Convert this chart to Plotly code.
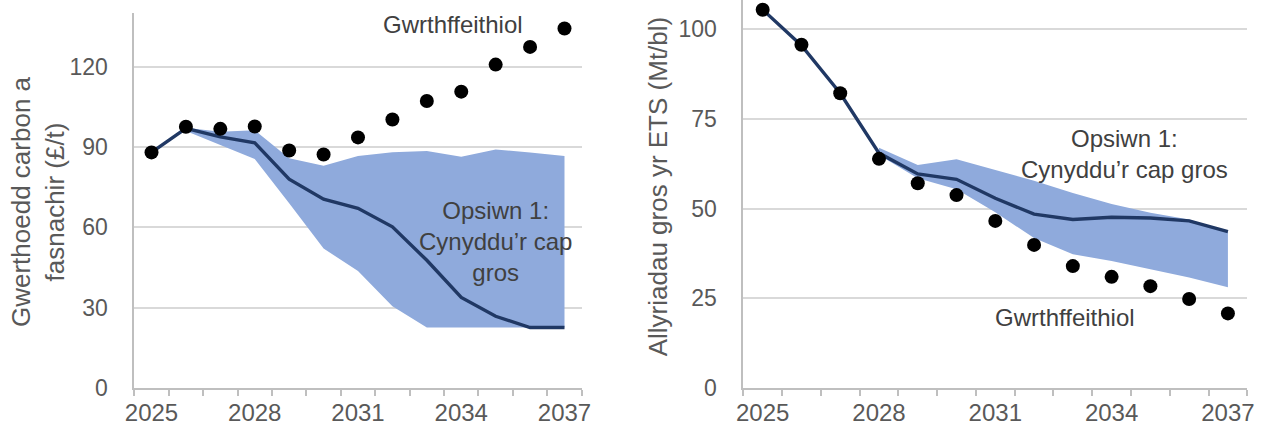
import plotly.graph_objects as go

# Years on both panels
years = list(range(2025, 2038))

# Left panel: carbon price (£/t)
price_counterfactual = [88, 97.6, 96.8, 97.7, 88.7, 87.2, 93.6, 100.3, 107.2, 110.7, 120.8, 127.4, 134.3]
price_option1 = [88, 97, 93.8, 91.6, 78, 70.5, 67.1, 60.2, 47.7, 33.8, 26.8, 22.6, 22.6]
price_band_years = list(range(2026, 2038))
price_band_upper = [97.2, 95.7, 96.3, 85.8, 83, 86.7, 88.1, 88.5, 86.4, 89.1, 88, 86.7]
price_band_lower = [96, 90.7, 85.5, 69, 52.1, 43.7, 30.5, 22.6, 22.6, 22.6, 22.6, 22.6]

# Right panel: gross ETS emissions (Mt/yr)
emis_counterfactual = [105.5, 95.7, 82.2, 63.9, 57.1, 53.8, 46.6, 39.9, 34.0, 31.0, 28.4, 24.8, 20.8]
emis_option1 = [105.5, 95.5, 82.2, 65.5, 59.7, 58.2, 52.9, 48.5, 47.0, 47.6, 47.4, 46.6, 43.6]
emis_band_years = list(range(2028, 2038))
emis_band_upper = [67.0, 62.2, 63.8, 60.8, 57.8, 54.4, 51.3, 48.9, 47.0, 43.6]
emis_band_lower = [65.0, 58.5, 55.4, 49.0, 41.8, 37.3, 35.4, 33.1, 30.8, 28.1]

tick_years = [2025, 2028, 2031, 2034, 2037]

BAND = "#8faadc"
LINE = "#203864"
GRID = "#d9d9d9"
AXIS = "#bfbfbf"
TXT = "#595959"
ANN = "#404040"
FONT = "Liberation Sans, Arial, sans-serif"

fig = go.Figure()


def add_panel(xa, ya, band_x, lo, hi, line_y, dots_y):
    fig.add_trace(go.Scatter(x=band_x, y=lo, mode="lines", line=dict(width=0),
                             hoverinfo="skip", showlegend=False, xaxis=xa, yaxis=ya))
    fig.add_trace(go.Scatter(x=band_x, y=hi, mode="lines", line=dict(width=0),
                             fill="tonexty", fillcolor=BAND, showlegend=False,
                             xaxis=xa, yaxis=ya))
    fig.add_trace(go.Scatter(x=years, y=line_y, mode="lines",
                             line=dict(color=LINE, width=3.4), showlegend=False,
                             xaxis=xa, yaxis=ya))
    fig.add_trace(go.Scatter(x=years, y=dots_y, mode="markers",
                             marker=dict(color="black", size=14), showlegend=False,
                             xaxis=xa, yaxis=ya))


add_panel("x", "y", price_band_years, price_band_lower, price_band_upper,
          price_option1, price_counterfactual)
add_panel("x2", "y2", emis_band_years, emis_band_lower, emis_band_upper,
          emis_option1, emis_counterfactual)

xaxis_common = dict(
    range=[2024.5, 2037.5], tickmode="array", tickvals=tick_years,
    ticktext=[str(y) for y in tick_years], ticks="", showgrid=False,
    zeroline=False, showline=True, linecolor=AXIS, linewidth=1.6,
    automargin=False,
    tickfont=dict(family=FONT, size=24, color=TXT), ticklabelstandoff=2,
    minor=dict(tickmode="array", tickvals=[y - 0.5 for y in years] + [2037.5],
               ticks="outside", ticklen=6, tickcolor=AXIS, tickwidth=1.6,
               showgrid=False),
)
yaxis_common = dict(
    ticks="", showgrid=True, gridcolor=GRID, gridwidth=1.6, zeroline=False,
    showline=True, linecolor=AXIS, linewidth=1.6, automargin=False,
    tickfont=dict(family=FONT, size=23, color=TXT), ticklabelstandoff=20,
)

fig.update_layout(
    width=1261, height=426,
    margin=dict(l=0, r=0, t=0, b=38, autoexpand=False),
    paper_bgcolor="white", plot_bgcolor="white",
    xaxis=dict(domain=[0.1065, 0.4613], anchor="y", **xaxis_common),
    xaxis2=dict(domain=[0.58945, 0.98914], anchor="y2", **xaxis_common),
    yaxis=dict(domain=[0, 0.966], anchor="x", range=[0, 140], dtick=30, **yaxis_common),
    yaxis2=dict(domain=[0, 1], anchor="x2", range=[0, 108.2], dtick=25, **yaxis_common),
    showlegend=False,
)

ann_font = dict(family=FONT, size=24, color=ANN)
fig.add_annotation(x=2033.76, y=135.6, xref="x", yref="y", text="Gwrthffeithiol",
                   showarrow=False, font=ann_font)
fig.add_annotation(x=2035.0, y=54.6, xref="x", yref="y",
                   text="Opsiwn 1:<br>Cynyddu’r cap<br>gros",
                   showarrow=False, font=ann_font)
fig.add_annotation(x=2034.33, y=65.3, xref="x2", yref="y2",
                   text="Opsiwn 1:<br>Cynyddu’r cap gros",
                   showarrow=False, font=ann_font)
fig.add_annotation(x=2032.8, y=19.8, xref="x2", yref="y2", text="Gwrthffeithiol",
                   showarrow=False, font=ann_font)

title_font = dict(family=FONT, size=26, color=TXT)
fig.add_annotation(x=38 / 1261, y=(388 - 202) / 388, xref="paper", yref="paper",
                   text="Gwerthoedd carbon a<br>fasnachir (£/t)", textangle=-90,
                   showarrow=False, font=title_font, xanchor="center", yanchor="middle")
fig.add_annotation(x=658.3 / 1261, y=(388 - 186) / 388, xref="paper", yref="paper",
                   text="Allyriadau gros yr ETS (Mt/bl)", textangle=-90,
                   showarrow=False, font=title_font, xanchor="center", yanchor="middle")

fig.write_html("out.html")
